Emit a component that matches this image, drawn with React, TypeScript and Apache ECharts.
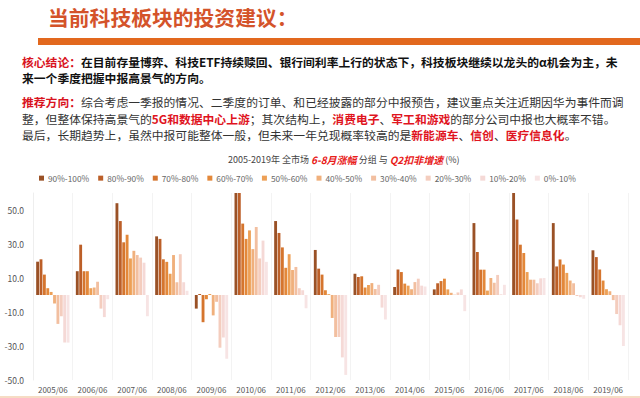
import React, { useEffect, useRef } from "react";
import * as echarts from "echarts";

const years = ["2005/06","2006/06","2007/06","2008/06","2009/06","2010/06","2011/06","2012/06","2013/06","2014/06","2015/06","2016/06","2017/06","2018/06","2019/06"];
const seriesNames = ["90%-100%","80%-90%","70%-80%","60%-70%","50%-60%","40%-50%","30%-40%","20%-30%","10%-20%","0%-10%"];
const seriesColors = ["#9A5126","#BC5F28","#D5752E","#E3883A","#EDA056","#F0B07C","#F2BFA0","#F4CDBE","#F5D9D6","#F7E4E4"];

const s90_100 = [19.6, 14, 54, 34.5, -8, 60, 43.5, 26.5, 12.5, 4.7, 3.3, 42.3, 60, 42.3, 26.3];
const s80_90 = [21, 29.6, 43.5, 33, 0.6, 60, 36.5, 15.5, 10.6, 15, 6.9, 25.3, 44.4, 16.8, 22.3];
const s70_80 = [12, 14, 31, 21, -16, 42, 28, 12, 11, 13.5, 8.2, 14.9, 29.6, 20.9, 15];
const s60_70 = [4, 14, 35.5, 19.5, -2.5, 33, 16, 2.8, 4.4, 6.7, 9.6, 14.9, 24.7, 17.9, 8.5];
const s50_60 = [1.8, 4, 21.5, 12.5, 0.6, 38, 24, 0.5, 5.9, 5.5, 3.3, 2.6, 13.5, 13, 3.4];
const s40_50 = [-5, 4.4, 26, 23.5, -12, 27, 14.7, -13.5, 7, 3.4, 1.3, 10, 9, 8.5, 2.2];
const s30_40 = [-17, 7.8, 23.5, 7.5, -4, 40, 16.5, -24.7, 3.5, 7.6, 0.2, 7.2, 9, 6.9, -3];
const s20_30 = [-12.5, -8, 22, 24, -31, 21.5, 4, -24.7, 6, 9.6, 1.5, 11.8, 6.9, -0.6, -11.2];
const s10_20 = [-28, -13, 19, 7.5, -25, 32, 2.8, -36.7, -7.4, 5.5, 3.3, 0.4, 9.8, -1.3, -17.8];
const s0_10 = [-28, -2.5, -12.5, 2.5, -37.5, 19.5, -7.8, -47, -14.4, 5, -9.5, 6, 10, -2.2, -30];

const seriesValues = [s90_100, s80_90, s70_80, s60_70, s50_60, s40_50, s30_40, s20_30, s10_20, s0_10];

const yMin = -50;
const yMax = 60;
const yInterval = 20;

const FONT = '"Noto Sans CJK SC", "Noto Sans", sans-serif';

export default function App() {
  const ref = useRef<HTMLDivElement>(null);
  useEffect(() => {
    if (!ref.current) return;
    const chart = echarts.init(ref.current, null, { renderer: "svg" });
    const red = "#E0141E";
    const fs = 11.8;
    const bodyRich = {
      r: { fontFamily: FONT, fontSize: fs, fontWeight: "bold", fill: "#D9141E" },
      b: { fontFamily: FONT, fontSize: fs, fontWeight: "bold", fill: "#111111" },
      n: { fontFamily: FONT, fontSize: fs, fontWeight: "normal", fill: "#333333" },
      h: { fontFamily: FONT, fontSize: fs, fontWeight: "bold", fill: red },
    };
    const line = (y: number, text: string) => ({
      type: "text",
      left: 22,
      top: y - 8,
      style: { text, rich: bodyRich, fontFamily: FONT, fontSize: fs },
    });
    chart.setOption({
      animation: false,
      backgroundColor: "#ffffff",
      textStyle: { fontFamily: FONT },
      graphic: [
        {
          type: "text",
          left: 48,
          top: 7,
          style: {
            text: "当前科技板块的投资建议：",
            fontFamily: FONT,
            fontSize: 20.8,
            fontWeight: "bold",
            fill: "#D4532A",
          },
        },
        {
          type: "rect",
          left: 38,
          top: 38,
          shape: { width: 602, height: 7 },
          style: { fill: "#E2681E" },
        },
        line(64, "{r|核心结论：}{b|在目前存量博弈、科技ETF持续赎回、银行间利率上行的状态下，科技板块继续以龙头的α机会为主，未}"),
        line(80, "{b|来一个季度把握中报高景气的方向。}"),
        line(104, "{r|推荐方向：}{n|综合考虑一季报的情况、二季度的订单、和已经披露的部分中报预告，建议重点关注近期因华为事件而调}"),
        line(121, "{n|整，但整体保持高景气的}{h|5G和数据中心上游}{n|；其次结构上，}{h|消费电子}{n|、}{h|军工和游戏}{n|的部分公司中报也大概率不错。}"),
        line(137, "{n|最后，长期趋势上，虽然中报可能整体一般，但未来一年兑现概率较高的是}{h|新能源车}{n|、}{h|信创}{n|、}{h|医疗信息化}{n|。}"),
        {
          type: "text",
          left: 228,
          top: 154,
          style: {
            text: "{n|2005-2019年 全市场 }{r|6-8月涨幅}{n| 分组 与 }{r|Q2扣非增速}{n| (%)}",
            rich: {
              n: { fontFamily: FONT, fontSize: 9, fill: "#444444" },
              r: { fontFamily: FONT, fontSize: 10, fontWeight: "bold", fontStyle: "italic", fill: "#E8201A" },
            },
          },
        },
        {
          type: "rect",
          left: 0,
          top: 396,
          shape: { width: 640, height: 2 },
          style: { fill: "#F6DCC4" },
        },
      ],
      legend: {
        top: 174,
        left: 39,
        itemWidth: 5,
        itemHeight: 5,
        itemGap: 9,
        icon: "rect",
        padding: 0,
        textStyle: { fontSize: 8.3, color: "#666666", fontFamily: FONT, padding: [0, 0, 0, -1] },
        data: seriesNames,
      },
      grid: { left: 33, right: 12, top: 193, bottom: 18, containLabel: false },
      xAxis: {
        type: "category",
        data: years,
        position: "bottom",
        axisLine: { show: false },
        axisTick: { show: false },
        axisLabel: { fontSize: 8, color: "#555555", margin: 5, fontFamily: FONT, interval: 0 },
        splitLine: { show: true, lineStyle: { color: "#F3F3F3", width: 1 } },
      },
      yAxis: {
        type: "value",
        min: yMin,
        max: yMax,
        interval: yInterval,
        axisLine: { show: true, lineStyle: { color: "#EEEEEE" } },
        axisTick: { show: false },
        splitLine: { show: false },
        axisLabel: {
          fontSize: 8.5,
          color: "#555555",
          margin: 9,
          fontFamily: FONT,
          formatter: (v: number) => (v === yMax ? "" : v.toFixed(1)),
        },
      },
      series: seriesNames.map((name, i) => ({
        name,
        type: "bar",
        data: seriesValues[i],
        barGap: "18%",
        barCategoryGap: "16%",
        itemStyle: { color: seriesColors[i] },
      })),
    });
    return () => chart.dispose();
  }, []);
  return <div ref={ref} style={{ position: "fixed", left: 0, top: 0, width: 640, height: 398 }} />;
}
